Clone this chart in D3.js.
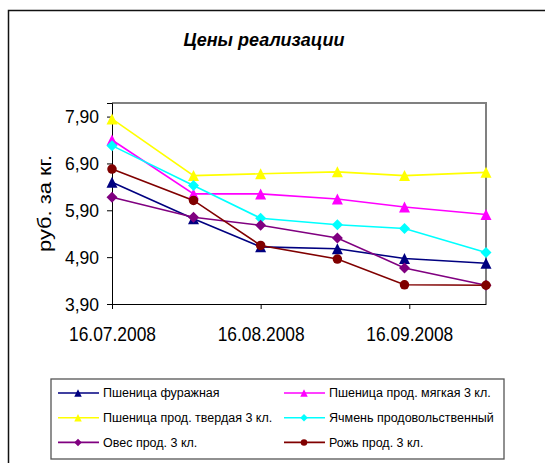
<!DOCTYPE html>
<html>
<head>
<meta charset="utf-8">
<script src="https://cdn.jsdelivr.net/npm/d3@7/dist/d3.min.js"></script>
<style>
  body { margin: 0; background: #fff; }
  svg { display: block; }
  text { font-family: "Liberation Sans", Arial, sans-serif; fill: #000; }
</style>
</head>
<body>
<div id="chart"></div>
<script>
'use strict';

// data
var dates = ["16.07.2008", "02.08.2008", "16.08.2008", "01.09.2008", "15.09.2008", "02.10.2008"];
var tickDates = ["16.07.2008", "16.08.2008", "16.09.2008"];
var yTicks = [3.9, 4.9, 5.9, 6.9, 7.9];

var seriesNames = [
    "Пшеница фуражная",
    "Пшеница прод. мягкая 3 кл.",
    "Пшеница прод. твердая 3 кл.",
    "Ячмень продовольственный",
    "Овес прод. 3 кл.",
    "Рожь прод. 3 кл."
];
var furazh  = [6.50, 5.72, 5.12, 5.08, 4.87, 4.77];
var myagkaya = [7.40, 6.25, 6.25, 6.14, 5.97, 5.81];
var tverdaya = [7.85, 6.64, 6.68, 6.72, 6.64, 6.71];
var yachmen = [7.28, 6.43, 5.73, 5.59, 5.51, 5.00];
var oves    = [6.18, 5.75, 5.58, 5.31, 4.67, 4.30];
var rozh    = [6.78, 6.11, 5.15, 4.86, 4.31, 4.30];

var seriesValues = [furazh, myagkaya, tverdaya, yachmen, oves, rozh];
var seriesColors = ["#000080", "#FF00FF", "#FFFF00", "#00FFFF", "#800080", "#800000"];
var seriesMarkers = ["triangle", "triangle", "triangle", "diamond", "diamond", "circle"];

var W = 545, H = 463;
var parseDate = d3.timeParse("%d.%m.%Y");
var fmtTick = d3.timeFormat("%d.%m.%Y");

var plot = { left: 112, top: 103, right: 486, bottom: 304 };

var svg = d3.select("#chart").append("svg")
    .attr("width", W)
    .attr("height", H);

// chart area border
svg.append("rect")
    .attr("x", 8.5).attr("y", 10.5)
    .attr("width", 700).attr("height", 700)
    .attr("fill", "none")
    .attr("stroke", "#111")
    .attr("stroke-width", 1.5);

svg.append("text")
    .attr("x", 264).attr("y", 46)
    .attr("text-anchor", "middle")
    .style("font-size", "18px")
    .style("font-weight", "bold")
    .style("font-style", "italic")
    .text("Цены реализации");

var x = d3.scaleTime()
    .domain([parseDate(dates[0]), parseDate(dates[dates.length - 1])])
    .range([plot.left, plot.right]);

var y = d3.scaleLinear()
    .domain([3.9, 8.19])
    .range([plot.bottom, plot.top]);

// plot area frame (top/right gray)
svg.append("path")
    .attr("d", "M" + plot.left + "," + plot.top + "H" + plot.right + "V" + plot.bottom)
    .attr("fill", "none")
    .attr("stroke", "#808080")
    .attr("stroke-width", 2);

var yAxis = d3.axisLeft(y)
    .tickValues(yTicks)
    .tickSize(5)
    .tickPadding(8)
    .tickFormat(function (d) { return d3.format(".2f")(d).replace(".", ","); });

var gy = svg.append("g")
    .attr("transform", "translate(" + plot.left + ",0)")
    .call(yAxis);
gy.selectAll("text").style("font-size", "17.5px").attr("dy", "0.35em");
gy.selectAll("line, path").attr("stroke", "#000");

var xAxis = d3.axisBottom(x)
    .tickValues(tickDates.map(parseDate))
    .tickSize(5)
    .tickSizeOuter(0)
    .tickPadding(18)
    .tickFormat(fmtTick);

var gx = svg.append("g")
    .attr("transform", "translate(0," + plot.bottom + ")")
    .call(xAxis);
gx.selectAll("text")
    .style("font-size", "20px")
    .attr("textLength", 87)
    .attr("lengthAdjust", "spacingAndGlyphs");
gx.selectAll("line, path").attr("stroke", "#000");

svg.append("text")
    .attr("transform", "translate(51," + ((plot.top + plot.bottom) / 2) + ") rotate(-90)")
    .attr("text-anchor", "middle")
    .attr("textLength", 97)
    .attr("lengthAdjust", "spacingAndGlyphs")
    .style("font-size", "19px")
    .text("руб. за кг.");

function markerPath(type, size) {
    var s = size / 2;
    if (type === "triangle") {
        return "M0," + (-s) + "L" + s + "," + s + "L" + (-s) + "," + s + "Z";
    }
    if (type === "diamond") {
        return "M0," + (-s) + "L" + s + ",0L0," + s + "L" + (-s) + ",0Z";
    }
    return d3.symbol(d3.symbolCircle, Math.PI * s * s)();
}

var line = d3.line()
    .x(function (d, i) { return x(parseDate(dates[i])); })
    .y(function (d) { return y(d); });

seriesValues.forEach(function (vals, k) {
    var g = svg.append("g");
    g.append("path")
        .attr("d", line(vals))
        .attr("fill", "none")
        .attr("stroke", seriesColors[k])
        .attr("stroke-width", 1.6);
    g.selectAll("path.m").data(vals).enter().append("path")
        .attr("class", "m")
        .attr("transform", function (d, i) {
            return "translate(" + x(parseDate(dates[i])) + "," + y(d) + ")";
        })
        .attr("d", markerPath(seriesMarkers[k], seriesMarkers[k] === "circle" ? 9.5 : 11))
        .attr("fill", seriesColors[k]);
});

// legend
var legend = svg.append("g");
legend.append("rect")
    .attr("x", 51).attr("y", 379)
    .attr("width", 453).attr("height", 80)
    .attr("fill", "#fff")
    .attr("stroke", "#555")
    .attr("stroke-width", 1.3);

seriesNames.forEach(function (name, k) {
    var col = k % 2, row = Math.floor(k / 2);
    var lx = col === 0 ? 58 : 284;
    var ly = 393 + row * 24.7;
    var item = legend.append("g");
    item.append("line")
        .attr("x1", lx).attr("x2", lx + 41)
        .attr("y1", ly).attr("y2", ly)
        .attr("stroke", seriesColors[k])
        .attr("stroke-width", 1.6);
    item.append("path")
        .attr("transform", "translate(" + (lx + 20) + "," + ly + ")")
        .attr("d", markerPath(seriesMarkers[k], seriesMarkers[k] === "circle" ? 6.5 : 7.5))
        .attr("fill", seriesColors[k]);
    item.append("text")
        .attr("x", lx + 45).attr("y", ly)
        .attr("dy", "0.35em")
        .style("font-size", "12.5px")
        .text(name);
});
</script>
</body>
</html>
